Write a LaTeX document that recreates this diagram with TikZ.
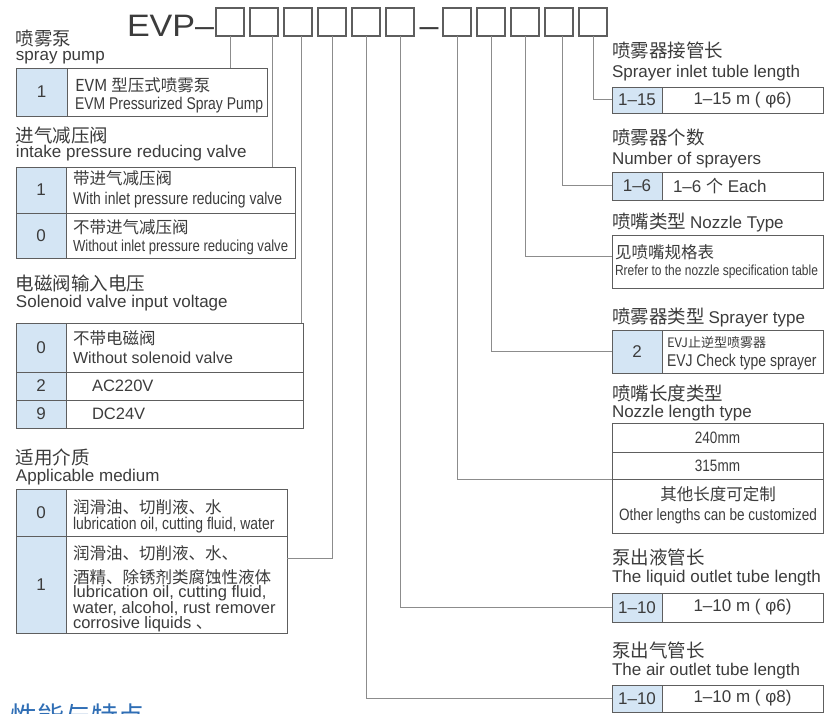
\documentclass[tikz,border=0pt]{standalone}
\usepackage{fontspec}
\setmainfont{Liberation Sans}
\newfontfamily\cjk{Noto Sans CJK SC}
\newfontfamily\narrow[FakeStretch=0.82]{Liberation Sans}
\newfontfamily\titlefont[FakeStretch=1.1]{Liberation Sans}
\usepackage{tikz}
\usetikzlibrary{positioning, fit}
\definecolor{keyblue}{HTML}{D4E5F4}
\definecolor{tabline}{HTML}{5E5E5E}
\definecolor{linkgray}{HTML}{8C8C8C}
\definecolor{ink}{HTML}{3C3C3C}
\definecolor{titleblue}{HTML}{2F6EB5}
\newcommand{\fs}[1]{\fontsize{#1}{#1}\selectfont}
\tikzset{
  every node/.style={text=ink, inner sep=0pt, outer sep=0pt},
  codebox/.style={draw=tabline, line width=1.2pt, minimum size=28pt, anchor=north west},
  cell/.style={draw=tabline, line width=0.8pt, anchor=north west, font=\fs{17}},
  key/.style={cell, fill=keyblue},
  link/.style={draw=linkgray, line width=1pt},
  headcn/.style={anchor=west, font=\cjk\fs{18.5}},
  headen/.style={anchor=west, font=\fs{17}},
  cellcn/.style={anchor=west, font=\cjk\fs{16.5}},
  cellen/.style={anchor=west, font=\narrow\fs{#1}},
  cellen/.default=16.5,
}
\begin{document}
\begin{tikzpicture}[x=1pt, y=-1pt]
  \fill[white] (0,0) rectangle (825,714);
  \useasboundingbox (0,0) rectangle (825,714);

  % model code
  \node[anchor=west, font=\titlefont\fs{31}] (evp) at (127,26) {EVP–};
  \foreach \n in {1,...,6}
    \node[codebox] (c\n) at ({216+34*(\n-1)},8) {};
  \node[anchor=base, font=\titlefont\fs{31}] (sep) at (429,37) {–};
  \foreach \n in {7,...,11}
    \node[codebox] (c\n) at ({443+34*(\n-7)},8) {};

  % spray pump
  \node[headcn] (pumpH) at (16,39) {喷雾泵};
  \node[headen] (pumpE) at (16,58) {spray pump};
  \node[key, minimum width=51pt, minimum height=48pt] (pumpK) at (16,68) {1};
  \node[cell, minimum width=200pt, minimum height=48pt] (pumpV) at (67,68) {};
  \node[cellcn] (pumpT1) at (75,85) {EVM 型压式喷雾泵};
  \node[cellen=17] (pumpT2) at (75,105) {EVM Pressurized Spray Pump};
  \node[fit=(pumpK)(pumpV)] (pump) {};

  % intake valve
  \node[headcn] (intakeH) at (16,135) {进气减压阀};
  \node[headen] (intakeE) at (16,153) {intake pressure reducing valve};
  \node[key, minimum width=50pt, minimum height=46pt] (intakeK1) at (16,167) {1};
  \node[key, minimum width=50pt, minimum height=45pt] (intakeK2) at (16,213) {0};
  \node[cell, minimum width=229pt, minimum height=46pt] (intakeV1) at (66,167) {};
  \node[cell, minimum width=229pt, minimum height=45pt] (intakeV2) at (66,213) {};
  \node[cellcn] (intakeT1) at (73,178) {带进气减压阀};
  \node[cellen=17] (intakeT2) at (73,200) {With inlet pressure reducing valve};
  \node[cellcn] (intakeT3) at (73,227) {不带进气减压阀};
  \node[cellen=16] (intakeT4) at (73,247) {Without inlet pressure reducing valve};
  \node[fit=(intakeK1)(intakeV2)] (intake) {};

  % solenoid voltage
  \node[headcn] (voltH) at (16,283) {电磁阀输入电压};
  \node[headen] (voltE) at (16,303) {Solenoid valve input voltage};
  \node[key, minimum width=50pt, minimum height=49pt] (voltK1) at (16,323) {0};
  \node[key, minimum width=50pt, minimum height=28pt] (voltK2) at (16,372) {2};
  \node[key, minimum width=50pt, minimum height=28pt] (voltK3) at (16,400) {9};
  \node[cell, minimum width=237pt, minimum height=49pt] (voltV1) at (66,323) {};
  \node[cell, minimum width=237pt, minimum height=28pt] (voltV2) at (66,372) {};
  \node[cell, minimum width=237pt, minimum height=28pt] (voltV3) at (66,400) {};
  \node[cellcn] (voltT1) at (73,338) {不带电磁阀};
  \node[anchor=west, font=\fs{16}] (voltT2) at (73,358) {Without solenoid valve};
  \node[anchor=west, font=\fs{16.5}] (voltT3) at (92,386) {AC220V};
  \node[anchor=west, font=\fs{16.5}] (voltT4) at (92,414) {DC24V};
  \node[fit=(voltK1)(voltV3)] (volt) {};

  % medium
  \node[headcn] (medH) at (16,457) {适用介质};
  \node[headen] (medE) at (16,477) {Applicable medium};
  \node[key, minimum width=50pt, minimum height=47pt] (medK1) at (16,489) {0};
  \node[key, minimum width=50pt, minimum height=97pt] (medK2) at (16,536) {1};
  \node[cell, minimum width=221pt, minimum height=47pt] (medV1) at (66,489) {};
  \node[cell, minimum width=221pt, minimum height=97pt] (medV2) at (66,536) {};
  \node[cellcn] (medT1) at (73,507) {润滑油、切削液、水};
  \node[cellen=17] (medT2) at (73,525) {lubrication oil, cutting fluid, water};
  \node[anchor=west, align=left, font=\cjk\fontsize{16.5}{24}\selectfont] (medT3) at (73,565)
    {润滑油、切削液、水、\\酒精、除锈剂类腐蚀性液体};
  \node[anchor=west, align=left, font=\fontsize{16.5}{14}\selectfont] (medT4) at (73,609)
    {lubrication oil, cutting fluid,\\water, alcohol, rust remover\\corrosive liquids {\cjk 、}};
  \node[fit=(medK1)(medV2)] (medium) {};

  % sprayer inlet tube
  \node[headcn] (inletH) at (612,50) {喷雾器接管长};
  \node[headen] (inletE) at (612,73) {Sprayer inlet tuble length};
  \node[key, minimum width=50pt, minimum height=26pt] (inletK) at (612,87) {1–15};
  \node[cell, minimum width=161pt, minimum height=26pt] (inletV) at (662,87) {1–15 m ( φ6)};
  \node[fit=(inletK)(inletV)] (inlet) {};

  % number of sprayers
  \node[headcn] (countH) at (612,137) {喷雾器个数};
  \node[headen] (countE) at (612,160) {Number of sprayers};
  \node[key, minimum width=50pt, minimum height=28pt] (countK) at (612,172) {1–6};
  \node[cell, minimum width=161pt, minimum height=28pt] (countV) at (662,172) {};
  \node[anchor=west, font=\fs{17}] (countT) at (673,186) {1–6 {\cjk 个} Each};
  \node[fit=(countK)(countV)] (count) {};

  % nozzle type
  \node[headcn] (nozzleH) at (612,223) {喷嘴类型 {\rmfamily\fs{17}Nozzle Type}};
  \node[cell, minimum width=211pt, minimum height=53pt] (nozzle) at (612,235) {};
  \node[cellcn] (nozzleT1) at (615,252) {见喷嘴规格表};
  \node[cellen=14.6] (nozzleT2) at (615,272) {Rrefer to the nozzle specification table};

  % sprayer type
  \node[headcn] (stypeH) at (612,318) {喷雾器类型 {\rmfamily\fs{17}Sprayer type}};
  \node[key, minimum width=50pt, minimum height=43pt] (stypeK) at (612,330) {2};
  \node[cell, minimum width=161pt, minimum height=43pt] (stypeV) at (662,330) {};
  \node[anchor=west, font=\cjk\fs{13}] (stypeT1) at (667,343) {EVJ止逆型喷雾器};
  \node[cellen=17] (stypeT2) at (667,362) {EVJ Check type sprayer};
  \node[fit=(stypeK)(stypeV)] (stype) {};

  % nozzle length
  \node[headcn] (nlenH) at (612,393) {喷嘴长度类型};
  \node[headen] (nlenE) at (612,413) {Nozzle length type};
  \node[cell, minimum width=211pt, minimum height=29pt, font=\narrow\fs{16.5}] (len240) at (612,423) {240mm};
  \node[cell, minimum width=211pt, minimum height=27pt, font=\narrow\fs{16.5}] (len315) at (612,452) {315mm};
  \node[cell, minimum width=211pt, minimum height=54pt] (lenOther) at (612,479) {};
  \node[font=\cjk\fs{16.5}] (lenT1) at (718,494) {其他长度可定制};
  \node[font=\narrow\fs{16.5}] (lenT2) at (718,516) {Other lengths can be customized};

  % liquid outlet tube
  \node[headcn] (liquidH) at (612,557) {泵出液管长};
  \node[headen] (liquidE) at (612,578) {The liquid outlet tube length};
  \node[key, minimum width=50pt, minimum height=29pt] (liquidK) at (612,593) {1–10};
  \node[cell, minimum width=161pt, minimum height=29pt] (liquidV) at (662,593) {1–10 m ( φ6)};
  \node[fit=(liquidK)(liquidV)] (liquid) {};

  % air outlet tube
  \node[headcn] (airH) at (612,650) {泵出气管长};
  \node[headen] (airE) at (612,671) {The air outlet tube length};
  \node[key, minimum width=50pt, minimum height=27pt] (airK) at (612,685) {1–10};
  \node[cell, minimum width=161pt, minimum height=27pt] (airV) at (662,685) {1–10 m ( φ8)};
  \node[fit=(airK)(airV)] (air) {};

  % connectors
  \coordinate (d2) at ([xshift=8.5pt]c2.south);
  \coordinate (d3) at ([xshift=3.5pt]c3.south);
  \coordinate (d10) at ([xshift=3.5pt]c10.south);
  \draw[link] (c1.south) -- (c1.south |- pump.north);
  \draw[link] (d2) -- (d2 |- intake.north);
  \draw[link] (d3) -- (d3 |- volt.north);
  \draw[link] (c4.south) |- ([yshift=3pt]medium.east);
  \draw[link] (c5.south) |- (air.west);
  \draw[link] (c6.south) |- (liquid.west);
  \draw[link] (c7.south) |- (len315.south west);
  \draw[link] (c8.south) |- (stype.west);
  \draw[link] (c9.south) |- ([yshift=5pt]nozzle.west);
  \draw[link] (d10) |- (count.west);
  \draw[link] (c11.south) |- (inlet.west);

  \node[anchor=west, font=\cjk\fs{27}, text=titleblue] (feat) at (10,716) {性能与特点};
\end{tikzpicture}
\end{document}
